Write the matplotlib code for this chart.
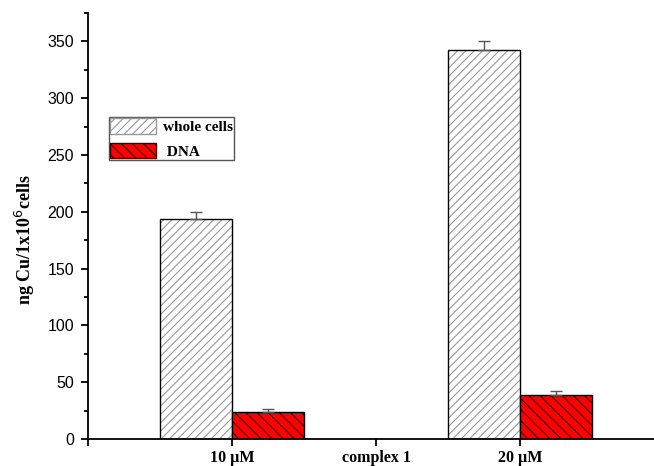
import numpy as np
import matplotlib
matplotlib.use('Agg')
import matplotlib.pyplot as plt
from matplotlib.patches import Patch
from matplotlib.ticker import MultipleLocator

# data
groups = ['', '10 \u00b5M', 'complex 1', '20 \u00b5M', '']
group_pos = [1, 3]
whole_cells = [194, 342]
whole_err = [6, 8]
dna = [24, 39]
dna_err = [2.5, 3]

serif = ['Liberation Serif', 'DejaVu Serif']
sans = ['Liberation Sans', 'DejaVu Sans']

fig = plt.figure(figsize=(6.54, 4.66), dpi=100)
ax = fig.add_axes([88/654, 27/466, 576/654, 426/466])

x = np.array(group_pos, dtype=float)
w = 0.5
plt.rcParams['hatch.linewidth'] = 0.8

# whole cells: white bars with gray hatch, black outline
ax.bar(x - w/2, whole_cells, w, color='white', edgecolor='#999999', hatch='////', linewidth=0)
ax.bar(x - w/2, whole_cells, w, fill=False, edgecolor='black', linewidth=1.0)
ax.errorbar(x - w/2, whole_cells, yerr=[[0, 0], whole_err], fmt='none',
            ecolor='#555555', capsize=4, elinewidth=1)

# DNA: red bars with black hatch
ax.bar(x + w/2, dna, w, color='red', edgecolor='#400000', hatch='\\\\\\', linewidth=0)
ax.bar(x + w/2, dna, w, fill=False, edgecolor='black', linewidth=1.0)
ax.errorbar(x + w/2, dna, yerr=[[0, 0], dna_err], fmt='none',
            ecolor='#555555', capsize=4, elinewidth=1)

ax.set_xlim(0, 4)
ax.set_ylim(0, 375)
ax.set_xticks(range(5))
ax.set_xticklabels(groups, fontfamily=serif, fontweight='bold', fontsize=11.5)
ax.yaxis.set_major_locator(MultipleLocator(50))
ax.yaxis.set_minor_locator(MultipleLocator(25))
for lab in ax.get_yticklabels():
    lab.set_fontfamily(sans)
    lab.set_fontsize(11.5)
ax.tick_params(axis='both', which='major', direction='out', length=5, width=1.3)
ax.tick_params(axis='y', which='major', pad=5)
ax.tick_params(axis='x', which='major', pad=3)
ax.tick_params(axis='y', which='minor', direction='out', length=3, width=1.3)
ax.spines['top'].set_visible(False)
ax.spines['right'].set_visible(False)
ax.spines['left'].set_linewidth(1.3)
ax.spines['bottom'].set_linewidth(1.3)

ax.set_ylabel('ng Cu/1x10$^{6}$cells', fontfamily=serif, fontweight='bold', fontsize=13)
ax.yaxis.set_label_coords(-0.089, 0.467)

handles = [Patch(facecolor='white', edgecolor='#999999', hatch='////', label='whole cells'),
           Patch(facecolor='red', edgecolor='#400000', hatch='\\\\\\', label=' DNA')]
leg = ax.legend(handles=handles, loc='upper left', bbox_to_anchor=(0.036, 0.756),
                prop={'family': serif, 'weight': 'bold', 'size': 11},
                fancybox=False, framealpha=1, edgecolor='#555555',
                handlelength=3.0, handleheight=1.18, handletextpad=0.45,
                borderpad=0.1, borderaxespad=0, labelspacing=0.55)
leg.get_frame().set_linewidth(1.0)

fig.savefig('out.png', dpi=100)
